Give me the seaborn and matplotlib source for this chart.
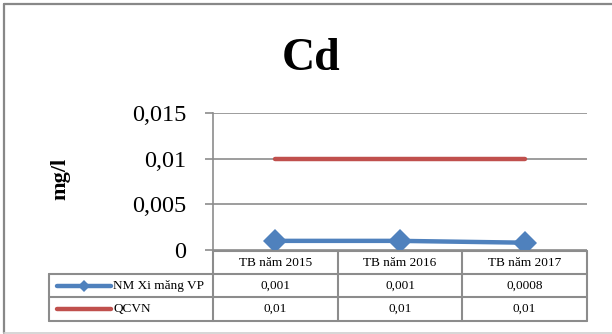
import matplotlib
matplotlib.use("Agg")
import matplotlib.pyplot as plt
from matplotlib.lines import Line2D
from matplotlib.ticker import FixedLocator, FuncFormatter
import seaborn as sns
import pandas as pd

# ---- data ----
categories = ["TB năm 2015", "TB năm 2016", "TB năm 2017"]
nm_values = [0.001, 0.001, 0.0008]
qcvn_values = [0.01, 0.01, 0.01]
series_names = ["NM Xi măng VP", "QCVN"]
y_ticks = [0, 0.005, 0.01, 0.015]
title = "Cd"
y_label = "mg/l"

colors = {"NM Xi măng VP": "#4F81BD", "QCVN": "#C0504D"}
gray = "#8C8C8C"

sns.set_theme(style="white")
plt.rcParams["font.family"] = ["Liberation Serif", "DejaVu Serif"]

W, H = 612, 334
fig = plt.figure(figsize=(W / 100, H / 100), dpi=100)


def fx(px):
    return px / W


def fy(py):
    return 1 - py / H


# axes area in pixels
ax_l, ax_r, ax_t, ax_b = 213, 587, 113, 250
ax = fig.add_axes([fx(ax_l), fy(ax_b), fx(ax_r) - fx(ax_l), fy(ax_t) - fy(ax_b)])

df = pd.DataFrame({
    "cat": categories * 2,
    "value": nm_values + qcvn_values,
    "series": [series_names[0]] * 3 + [series_names[1]] * 3,
})

sns.lineplot(data=df[df.series == "QCVN"], x="cat", y="value", ax=ax,
             color=colors["QCVN"], linewidth=3.2, sort=False, legend=False,
             solid_capstyle="round")
sns.lineplot(data=df[df.series == "NM Xi măng VP"], x="cat", y="value", ax=ax,
             color=colors["NM Xi măng VP"], linewidth=3.2, marker="D",
             markersize=12, markeredgewidth=0, sort=False, legend=False)

ax.set_xlim(-0.5, 2.5)
ax.set_ylim(0, 0.015)
ax.yaxis.set_major_locator(FixedLocator(y_ticks))
ax.yaxis.set_major_formatter(FuncFormatter(lambda v, p: f"{v:g}".replace(".", ",")))
ax.set_xticks([])
ax.set_xlabel("")
ax.set_ylabel("")
ax.grid(False)
for v in y_ticks:
    ax.axhline(v, color=gray, linewidth=1.2, zorder=0)
for s in ["top", "right", "bottom"]:
    ax.spines[s].set_visible(False)
ax.spines["left"].set_color(gray)
ax.spines["left"].set_linewidth(1.2)
ax.tick_params(axis="y", which="major", left=True, direction="out", length=6,
               width=1.2, color=gray, pad=13, labelsize=17.5, labelcolor="black")
ax.set_facecolor("none")

# title and y label
fig.text(fx(311), fy(70), title, ha="center", va="baseline", fontsize=33,
         fontweight="bold", color="black")
fig.text(fx(60), fy(179), y_label, ha="center", va="center", rotation=90,
         fontsize=16, fontweight="bold", color="black")

# outer border
lw_b = 1.6
fig.add_artist(Line2D([fx(4), fx(4)], [fy(4), fy(333)], color="#888888", linewidth=lw_b))
fig.add_artist(Line2D([fx(4), fx(612)], [fy(4), fy(4)], color="#888888", linewidth=lw_b))
fig.add_artist(Line2D([fx(4), fx(612)], [fy(333), fy(333)], color="#D0D0D0", linewidth=1.2))

# data table
col_x = [213, 338, 462, 587]
row_y = [251, 274, 297, 321]
leg_l = 49
tl = 1.5


def hline(y, x0, x1):
    fig.add_artist(Line2D([fx(x0), fx(x1)], [fy(y), fy(y)], color=gray, linewidth=tl))


def vline(x, y0, y1):
    fig.add_artist(Line2D([fx(x), fx(x)], [fy(y0), fy(y1)], color=gray, linewidth=tl))


hline(row_y[0], col_x[0], col_x[-1])
for y in row_y[1:]:
    hline(y, leg_l, col_x[-1])
for x in col_x:
    vline(x, row_y[0], row_y[-1])
vline(leg_l, row_y[1], row_y[-1])

fs_t = 9.5
for i, c in enumerate(categories):
    cx = (col_x[i] + col_x[i + 1]) / 2
    fig.text(fx(cx), fy((row_y[0] + row_y[1]) / 2), c, ha="center", va="center",
             fontsize=fs_t, color="black")

series_vals = [nm_values, qcvn_values]
for r, (name, vals) in enumerate(zip(series_names, series_vals)):
    cy = (row_y[r + 1] + row_y[r + 2]) / 2
    for i, v in enumerate(vals):
        cx = (col_x[i] + col_x[i + 1]) / 2
        fig.text(fx(cx), fy(cy), f"{v:g}".replace(".", ","), ha="center",
                 va="center", fontsize=fs_t, color="black")
    # legend key
    fig.add_artist(Line2D([fx(57), fx(111)], [fy(cy), fy(cy)], color=colors[name],
                          linewidth=3.2, solid_capstyle="round"))
    if r == 0:
        fig.add_artist(Line2D([fx(84)], [fy(cy)], color=colors[name], marker="D",
                              markersize=6, markeredgewidth=0, linestyle="none"))
    fig.text(fx(113), fy(cy), name, ha="left", va="center", fontsize=fs_t,
             color="black")

fig.savefig("out.png", dpi=100, facecolor="white")
